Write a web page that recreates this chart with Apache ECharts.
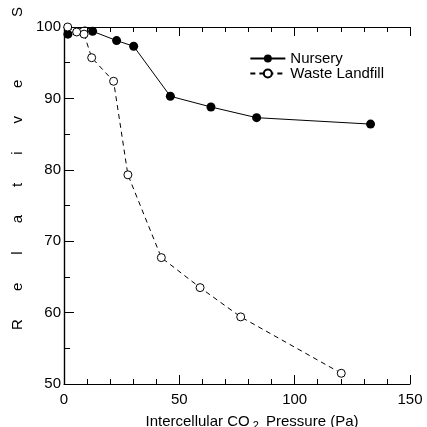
<!DOCTYPE html>
<html>
<head>
<meta charset="utf-8">
<script src="https://cdn.jsdelivr.net/npm/echarts@6/dist/echarts.min.js"></script>
<style>
  html, body { margin: 0; padding: 0; background: #fff; }
  #chart { width: 427px; height: 427px; }
</style>
</head>
<body>
<div id="chart"></div>
<script>
// data
var nurseryX = [1.7, 9.2, 12.4, 22.8, 30.2, 46.1, 63.7, 83.5, 132.9];
var nurseryY = [99.0, 100.1, 99.4, 98.1, 97.3, 90.3, 88.8, 87.3, 86.4];
var landfillX = [1.6, 5.5, 8.7, 12.0, 21.5, 27.7, 42.2, 59.0, 76.6, 120.2];
var landfillY = [100.0, 99.3, 99.0, 95.7, 92.4, 79.3, 67.7, 63.5, 59.4, 51.5];

function pairs(xs, ys) {
    return xs.map(function (x, i) { return [x, ys[i]]; });
}

var font = 'Liberation Sans, Arial, sans-serif';
// widely spaced y title, as in the original figure
var gap = '      \u2009';
var yTitle = ['R', 'e', 'l', 'a', 't', 'i', 'v', 'e'].join(gap) + '               S';

var chart = echarts.init(document.getElementById('chart'));

var option = {
    animation: false,
    backgroundColor: '#fff',
    grid: { left: 64, right: 17, top: 27, bottom: 43, outerBoundsMode: 'none', containLabel: false },
    legend: {
        orient: 'vertical',
        right: 38,
        top: 46,
        itemGap: 0,
        itemWidth: 35,
        itemHeight: 10,
        textStyle: { fontFamily: font, fontSize: 15, color: '#000', lineHeight: 15 },
        data: ['Nursery', 'Waste Landfill']
    },
    xAxis: [{
        type: 'value',
        min: 0, max: 150, interval: 50,
        splitLine: { show: false },
        axisLine: { lineStyle: { color: '#000', width: 1.2 } },
        axisTick: { inside: true, length: 9, lineStyle: { color: '#000' } },
        minorTick: { show: true, splitNumber: 5, length: 5, lineStyle: { color: '#000' } },
        axisLabel: { color: '#000', fontFamily: font, fontSize: 15, margin: 8 },
        name: '{a|Intercellular CO}{s|2}{a| Pressure (Pa)}',
        nameLocation: 'middle',
        nameGap: 28,
        nameTextStyle: {
            padding: [0, 0, 0, 30],
            rich: {
                a: { fontFamily: font, fontSize: 15, color: '#000' },
                s: { fontFamily: font, fontSize: 11, color: '#000', padding: [8, 3, 0, 3] }
            }
        }
    }, {
        type: 'value',
        position: 'top',
        min: 0, max: 150, interval: 50,
        splitLine: { show: false },
        axisLine: { lineStyle: { color: '#000', width: 1.2 } },
        axisTick: { inside: true, length: 9, lineStyle: { color: '#000' } },
        minorTick: { show: true, splitNumber: 5, length: 5, lineStyle: { color: '#000' } },
        axisLabel: { show: false }
    }],
    yAxis: [{
        type: 'value',
        min: 50, max: 100, interval: 10,
        splitLine: { show: false },
        axisLine: { show: true, lineStyle: { color: '#000', width: 1.2 } },
        axisTick: { inside: true, length: 10, lineStyle: { color: '#000' } },
        minorTick: { show: true, splitNumber: 2, length: 6, lineStyle: { color: '#000' } },
        axisLabel: { color: '#000', fontFamily: font, fontSize: 15, margin: 3 },
        name: yTitle,
        nameLocation: 'middle',
        nameRotate: 90,
        nameGap: 32,
        nameTextStyle: { fontFamily: font, fontSize: 15, color: '#000', padding: [0, 0, 0, 74] }
    }, {
        type: 'value',
        position: 'right',
        min: 50, max: 100, interval: 10,
        splitLine: { show: false },
        axisLine: { show: true, lineStyle: { color: '#000', width: 1.2 } },
        axisTick: { show: false },
        axisLabel: { show: false }
    }],
    series: [{
        name: 'Nursery',
        type: 'line',
        data: pairs(nurseryX, nurseryY),
        symbol: 'circle',
        symbolSize: 9,
        itemStyle: { color: '#000' },
        lineStyle: { color: '#000', width: 1 },
        z: 3
    }, {
        name: 'Waste Landfill',
        type: 'line',
        data: pairs(landfillX, landfillY),
        symbol: 'circle',
        symbolSize: 8,
        itemStyle: { color: '#fff', borderColor: '#000', borderWidth: 1 },
        lineStyle: { color: '#000', width: 1, type: [5, 4] },
        z: 4
    }]
};

chart.setOption(option);
</script>
</body>
</html>
